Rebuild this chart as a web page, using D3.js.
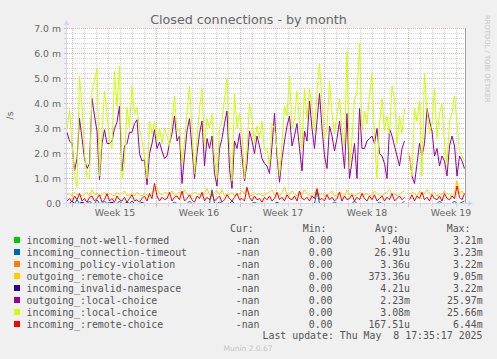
<!DOCTYPE html>
<html><head><meta charset="utf-8">
<script src="https://cdn.jsdelivr.net/npm/d3@7"></script>
<style>html,body{margin:0;padding:0;background:#f0f0f0;}svg{display:block}</style>
</head><body><svg id="c" width="497" height="359"></svg>
<script>
// ---------- data ----------
const startTime = "2025-04-05T13:00:00Z"; // first sample
const stepHours = 5;                         // sample spacing
const weekTickTimes = ["2025-04-09T12:00:00Z","2025-04-16T12:00:00Z","2025-04-23T12:00:00Z","2025-04-30T12:00:00Z","2025-05-07T12:00:00Z"];
const weekLabels = ["Week 15","Week 16","Week 17","Week 18","Week 19"];
const yTicks = [0,1,2,3,4,5,6,7];
const yTickLabels = ["0.0","1.0 m","2.0 m","3.0 m","4.0 m","5.0 m","6.0 m","7.0 m"];

const seriesNames = ["incoming_not-well-formed","incoming_connection-timeout","incoming_policy-violation","outgoing_:remote-choice","incoming_invalid-namespace","outgoing_:local-choice","incoming_:local-choice","incoming_:remote-choice"];
const seriesColors = ["#00CC00","#0066B3","#FF8000","#FFCC00","#330099","#990099","#CCFF00","#FF0000"];
const curValues = ["-nan","-nan","-nan","-nan","-nan","-nan","-nan","-nan"];
const minValues = ["0.00","0.00","0.00","0.00","0.00","0.00","0.00","0.00"];
const avgValues = ["1.40u","26.91u","3.36u","373.36u","4.21u","2.23m","3.08m","167.51u"];
const maxValues = ["3.21m","3.23m","3.22m","9.05m","3.22m","25.97m","25.66m","6.44m"];

// values in milli-connections per second
const notWellFormed = [
0,0,0,0,0,0,0,0,0,0, 0,0,0,0,0,0,0,0,0,0, 0,0,0,0,0,0,0,0,0,0, 0,0,0,0,0,0,0,0,0,0,
0,0,0,0,0,0,0,0,0,0, 0,0,0,0,0,0,0,0,0,0, 0,0,0,0,0,0,0,0,0,0, 0,0,0,0,0,0,0,0,0,0,
0,0,0,0,0,0,0,0,0,0, 0,0,0,0,0,0,0,0,0,0, 0,0,0,0,0,0,0,0,0,0, 0,0,0,0,0,0,0,0,0,0,
0,0,0,0,0,0,0,0,0,0, 0,0,0,0,0,0,null,0,0,0, 0,0,0,0,0,0,0,0,0,0, 0,0,0,0,0,0,0,0,0,0];
const connectionTimeout = [
0,0,0.1,0,0.15,0,0.05,0,0,0.1, 0,0,0.15,0,0,0.1,0,0.05,0,0, 0,0.1,0,0,0.05,0,0.1,0,0,0, 0.05,0,0,0,0,0,0,0,0,0,
0,0,0,0.05,0,0,0,0,0,0.1, 0,0,0,0,0,0,0,0,0.55,0, 0,0.05,0,0,0,0,0.1,0,0,0, 0,0,0,0,0,0.05,0,0,0,0,
0,0,0,0,0.05,0,0,0,0,0, 0,0,0,0,0,0,0,0,0,0, 0.5,0,0,0,0,0,0,0.05,0,0, 0,0,0,0,0,0.1,0,0,0,0,
0,0,0,0,0,0.05,0,0,0,0, 0,0,0,0,0,0.1,null,0,0,0, 0,0,0,0,0,0,0,0,0,0.1, 0,0,0,0,0,0.1,0,0,0.05,0.1];
const policyViolation = [
0,0,0,0,0,0,0,0,0,0, 0,0,0,0,0,0,0,0,0,0, 0,0,0,0,0,0,0,0,0,0, 0,0,0,0,0,0,0,0,0,0,
0,0,0,0,0,0,0,0,0,0, 0,0,0,0,0,0,0,0,0,0, 0,0,0,0,0,0,0,0,0,0, 0,0,0,0,0,0,0,0,0,0,
0,0,0,0,0,0,0,0,0,0, 0,0,0,0,0,0,0,0,0,0, 0,0,0,0,0,0,0,0,0,0, 0,0,0,0,0,0,0,0,0,0,
0,0,0,0,0,0,0,0,0,0, 0,0,0,0,0,0,null,0,0,0, 0,0,0,0,0,0,0,0,0,0, 0,0,0,0,0,0,0,0,0,0];
const outgoingRemote = [
0.35,0.4,0.3,0.45,0.35,0.4,0.3,0.35,0.45,0.3, 0.55,0.35,0.4,0.3,0.35,0.45,0.3,0.4,0.35,0.3, 0.45,0.35,0.4,0.5,0.3,0.35,0.4,0.3,0.45,0.35, 0.3,0.4,0.35,0.3,0.45,0.5,0.65,0.4,0.35,0.45,
0.4,0.35,0.5,0.3,0.4,0.45,0.35,0.55,0.4,0.3, 0.35,0.45,0.4,0.35,0.3,0.4,0.6,0.35,0.3,0.45, 0.5,0.35,0.55,0.3,0.4,0.35,0.45,0.3,0.4,0.35, 0.5,0.4,0.6,0.35,0.3,0.45,0.35,0.4,0.3,0.35,
0.4,0.45,0.55,0.35,0.4,0.3,0.45,0.65,0.4,0.35, 0.5,0.4,0.3,0.45,0.35,0.55,0.4,0.35,0.3,0.45, 0.5,0.35,0.4,0.3,0.35,0.4,0.5,0.3,0.35,0.45, 0.4,0.3,0.55,0.35,0.4,0.3,0.35,0.45,0.4,0.35,
0.4,0.3,0.35,0.5,0.4,0.35,0.3,0.4,0.45,0.55, 0.35,0.4,0.3,0.35,0.45,0.5,null,0.35,0.45,0.4, 0.3,0.5,0.35,0.4,0.55,0.4,0.35,0.45,0.3,0.4, 0.35,0.5,0.4,0.35,0.3,0.45,0.9,0.4,0.5,0.35];
const invalidNamespace = [
0,0,0,0,0,0,0.05,0,0,0, 0,0,0,0,0,0,0,0,0.05,0, 0,0,0,0,0,0,0,0,0,0, 0,0,0,0,0,0,0,0,0,0,
0,0,0,0,0,0,0,0,0,0, 0,0,0,0,0,0,0,0,0,0, 0,0,0,0,0,0,0,0,0,0, 0,0,0,0,0,0,0,0,0,0,
0,0,0,0,0,0,0,0,0,0, 0,0,0,0,0,0,0,0,0,0, 0,0,0,0,0,0,0,0,0,0, 0,0,0,0,0,0,0,0,0,0,
0,0,0,0,0,0,0,0,0,0, 0,0,0,0,0,0,null,0,0,0, 0,0,0,0,0,0,0,0,0,0, 0,0,0,0,0,0,0,0,0,0];
const outgoingLocal = [
2.85,2.5,2.4,1.3,1.8,3.4,2.6,1.8,1.4,1.6, 4.2,3.5,2.9,0.95,2.4,2.95,2.4,2.4,2.5,3.0, 3.25,3.9,1.3,2.3,2.4,2.85,2.85,3.2,3.35,2.0, 1.7,1.75,0.75,2.0,2.4,2.95,2.2,2.45,2.1,1.8,
1.9,2.4,2.8,3.5,2.5,2.7,0.8,1.9,2.9,3.4, 2.2,1.0,2.0,2.8,3.3,1.5,2.6,2.2,2.7,1.2, 0.7,2.2,2.6,3.2,3.7,1.4,0.6,2.5,2.2,2.8, 1.9,0.9,1.6,2.9,2.5,2.0,2.7,2.3,1.8,1.6,
1.5,1.2,2.3,3.6,1.9,0.85,1.8,2.5,3.1,3.5, 2.3,2.7,3.2,2.2,1.3,2.9,2.5,4.1,3.0,2.2, 3.3,4.4,3.0,1.9,1.4,3.1,2.7,2.1,2.6,3.3, 2.4,1.4,3.6,1.0,1.7,2.4,1.0,3.8,2.2,2.2,
2.5,2.6,2.7,2.4,3.0,2.0,1.9,1.6,1.0,3.0, 2.7,2.3,1.9,1.5,2.2,2.5,null,1.9,1.1,0.8, 1.6,2.4,1.9,2.4,3.8,3.3,2.9,1.9,2.2,1.5, 1.9,1.7,1.1,2.3,2.7,2.3,1.1,1.9,1.7,1.4];
const incomingLocal = [
3.0,3.75,2.4,1.2,0.65,5.1,3.9,2.0,1.0,1.0, 4.5,4.9,5.4,1.1,2.8,4.5,3.6,2.5,2.2,5.3, 3.9,5.5,1.0,1.6,3.85,3.0,4.7,3.6,3.85,3.0, 2.5,1.9,1.0,3.3,2.8,3.3,2.5,3.0,2.4,3.0,
2.7,2.3,3.3,4.3,2.9,3.0,1.6,2.5,3.6,4.7, 3.0,1.2,2.6,3.8,4.6,2.3,3.4,3.0,3.6,1.8, 1.0,3.0,3.3,4.2,5.0,2.3,0.9,4.4,3.0,3.6, 2.8,1.0,2.2,4.0,3.4,2.4,3.1,2.6,3.3,2.1,
2.2,1.5,3.2,3.0,2.2,1.1,2.4,3.9,3.5,5.1, 3.0,3.4,4.5,3.3,2.2,4.6,3.4,4.6,3.8,2.9, 4.4,5.6,4.0,2.6,3.0,4.9,3.6,2.8,3.5,4.2, 2.9,2.3,6.1,1.4,2.6,4.2,4.4,6.4,2.9,3.7,
3.2,4.3,5.2,2.6,1.0,3.2,4.2,2.9,3.5,2.8, 4.7,4.2,2.4,3.5,2.8,3.8,null,2.0,1.1,3.8, 3.3,4.1,1.1,5.2,3.7,2.8,3.2,4.6,2.6,3.6, 4.0,2.4,1.6,3.3,3.6,4.3,3.2,2.1,1.9,1.7];
const incomingRemote = [
0.1,0.2,0.05,0.3,0.15,0.4,0.1,0.2,0.05,0.25, 0.3,0.1,0.2,0.35,0.05,0.15,0.4,0.1,0.2,0.05, 0.3,0.15,0.1,0.25,0.05,0.2,0.35,0.1,0.15,0.05, 0.2,0.3,0.1,0.4,0.2,0.8,0.3,0.1,0.25,0.15,
0.2,0.45,0.1,0.25,0.3,0.15,0.5,0.1,0.2,0.35, 0.15,0.05,0.3,0.2,0.45,0.1,0.25,0.15,0.4,0.1, 0.2,0.3,0.05,0.15,0.35,0.2,0.1,0.25,0.4,0.15, 0.2,0.1,0.65,0.25,0.1,0.3,0.15,0.2,0.05,0.25,
0.15,0.3,0.1,0.2,0.45,0.15,0.25,0.1,0.35,0.2, 0.15,0.3,0.1,0.5,0.2,0.15,0.25,0.1,0.3,0.2, 0.6,0.15,0.2,0.1,0.35,0.15,0.25,0.1,0.2,0.45, 0.1,0.3,0.15,0.2,0.35,0.1,0.25,0.15,0.4,0.2,
0.1,0.3,0.15,0.35,0.1,0.2,0.3,0.1,0.25,0.15, 0.4,0.1,0.2,0.3,0.15,0.25,null,0.15,0.35,0.1, 0.3,0.2,0.45,0.15,0.25,0.1,0.35,0.2,0.15,0.3, 0.1,0.4,0.2,0.15,0.3,0.2,0.7,0.25,0.15,0.4];

const seriesData = [notWellFormed, connectionTimeout, policyViolation, outgoingRemote, invalidNamespace, outgoingLocal, incomingLocal, incomingRemote];

// ---------- drawing ----------
const svg = d3.select("#c");
const FONT = "'DejaVu Sans', sans-serif";
const MONO = "'DejaVu Sans Mono', monospace";
const TXT = "#666666";

const x = d3.scaleUtc()
  .domain([new Date("2025-04-06T00:00:00Z"), new Date("2025-05-04T00:00:00Z")])
  .range([72.5, 408.5]);
const y = d3.scaleLinear().domain([0, 7]).range([203.5, 28.5]);
const t0 = new Date(startTime).getTime();
const timeAt = i => new Date(t0 + i * stepHours * 3600 * 1000);

const pL = 67, pR = 465, pT = 28, pB = 203.5;

svg.append("rect").attr("width", 497).attr("height", 359).attr("fill", "#f0f0f0");
svg.append("rect").attr("x", pL).attr("y", pT).attr("width", pR - pL).attr("height", pB - pT).attr("fill", "#ffffff");

const grid = svg.append("g");
const minorY = d3.range(1, 36).map(k => k * 0.2);
minorY.forEach(v => {
  const major = Math.abs(v - Math.round(v)) < 1e-6;
  const yy = Math.round(y(v) - 0.5) + 0.5;
  grid.append("line").attr("x1", pL).attr("x2", pR).attr("y1", yy).attr("y2", yy)
    .attr("stroke", major ? "#f0a8a8" : "#d4d4d4").attr("stroke-dasharray", "1,1");
  grid.append("line").attr("x1", 64).attr("x2", 67).attr("y1", yy).attr("y2", yy)
    .attr("stroke", major ? "#f0a8a8" : "#d4d4d4");
});
const days = d3.utcDay.range(new Date("2025-04-06T00:00:00Z"), new Date("2025-05-09T00:00:00Z"));
days.forEach(d => {
  const xx = x(d);
  if (xx < pL || xx > pR - 2) return;
  const major = d.getUTCDay() === 0;
  grid.append("line").attr("x1", xx).attr("x2", xx).attr("y1", pT).attr("y2", pB)
    .attr("stroke", major ? "#f0a8a8" : "#d4d4d4").attr("stroke-dasharray", "1,1");
  grid.append("line").attr("x1", xx).attr("x2", xx).attr("y1", 204).attr("y2", 207)
    .attr("stroke", major ? "#f0a8a8" : "#d4d4d4");
});

const line = d3.line()
  .defined(d => d != null)
  .x((d, i) => x(timeAt(i)))
  .y(d => y(d));
const lines = svg.append("g");
seriesData.forEach((s, k) => {
  lines.append("path").datum(s).attr("d", line)
    .attr("fill", "none").attr("stroke", seriesColors[k]).attr("stroke-width", 1);
});

svg.append("line").attr("x1", 465.5).attr("x2", 465.5).attr("y1", pT).attr("y2", pB)
  .attr("stroke", "#a0a0a0");

const AX = "#CFD6F8";
svg.append("line").attr("x1", 63).attr("x2", 469).attr("y1", 203.5).attr("y2", 203.5).attr("stroke", AX);
svg.append("line").attr("x1", 66.5).attr("x2", 66.5).attr("y1", 207).attr("y2", 24).attr("stroke", AX);
svg.append("path").attr("d", "M468,200.5L473,203.5L468,206.5Z").attr("fill", AX);
svg.append("path").attr("d", "M63.5,25L66.5,20L69.5,25Z").attr("fill", AX);

const yAxis = d3.axisLeft(y).tickValues(yTicks).tickSize(0)
  .tickFormat((d, i) => yTickLabels[i]);
const gy = svg.append("g").attr("transform", "translate(61,0)").call(yAxis);
gy.select(".domain").remove();
gy.selectAll("text").attr("font-family", FONT).attr("font-size", "9.3px").attr("fill", TXT).attr("x", 0);

const xAxis = d3.axisBottom(x).tickValues(weekTickTimes.map(s => new Date(s))).tickSize(0)
  .tickFormat((d, i) => weekLabels[i]);
const gx = svg.append("g").attr("transform", "translate(0,206)").call(xAxis);
gx.select(".domain").remove();
gx.selectAll("text").attr("font-family", FONT).attr("font-size", "9.4px").attr("fill", TXT).attr("dy", 0).attr("y", 9.5);

svg.append("text").attr("x", 248.5).attr("y", 24).attr("text-anchor", "middle")
  .attr("font-family", FONT).attr("font-size", "12.7px").attr("fill", TXT)
  .text("Closed connections - by month");
svg.append("text").attr("transform", "translate(12.5,115.5) rotate(-90)").attr("text-anchor", "middle")
  .attr("font-family", FONT).attr("font-size", "9.3px").attr("fill", TXT).text("/s");
svg.append("text").attr("transform", "translate(485,15) rotate(90)").attr("text-anchor", "start")
  .attr("font-family", FONT).attr("font-size", "6.8px").attr("fill", "#c4c4c4").text("RRDTOOL / TOBI OETIKER");

const LEG = "#555555";
const lg = svg.append("g").attr("font-family", MONO).attr("font-size", "9.9px").attr("fill", LEG);
const hdr = [["Cur:", 230], ["Min:", 302.7], ["Avg:", 375], ["Max:", 446.7]];
hdr.forEach(h => lg.append("text").attr("x", h[1]).attr("y", 231.5).text(h[0]));
seriesNames.forEach((name, i) => {
  const cy = 240 + i * 12;
  lg.append("rect").attr("x", 14).attr("y", cy - 3).attr("width", 6).attr("height", 6).attr("fill", seriesColors[i]);
  lg.append("text").attr("x", 26.5).attr("y", cy + 3.5).text(name);
  lg.append("text").attr("x", 259.5).attr("y", cy + 3.5).attr("text-anchor", "end").text(curValues[i]);
  lg.append("text").attr("x", 332.5).attr("y", cy + 3.5).attr("text-anchor", "end").text(minValues[i]);
  lg.append("text").attr("x", 410).attr("y", cy + 3.5).attr("text-anchor", "end").text(avgValues[i]);
  lg.append("text").attr("x", 482.7).attr("y", cy + 3.5).attr("text-anchor", "end").text(maxValues[i]);
});
lg.append("text").attr("x", 482.5).attr("y", 339).attr("text-anchor", "end")
  .style("white-space", "pre").text("Last update: Thu May  8 17:35:17 2025");
svg.append("text").attr("x", 248).attr("y", 351).attr("text-anchor", "middle")
  .attr("font-family", FONT).attr("font-size", "7.5px").attr("fill", "#c4c4c4").text("Munin 2.0.67");
</script></body></html>
